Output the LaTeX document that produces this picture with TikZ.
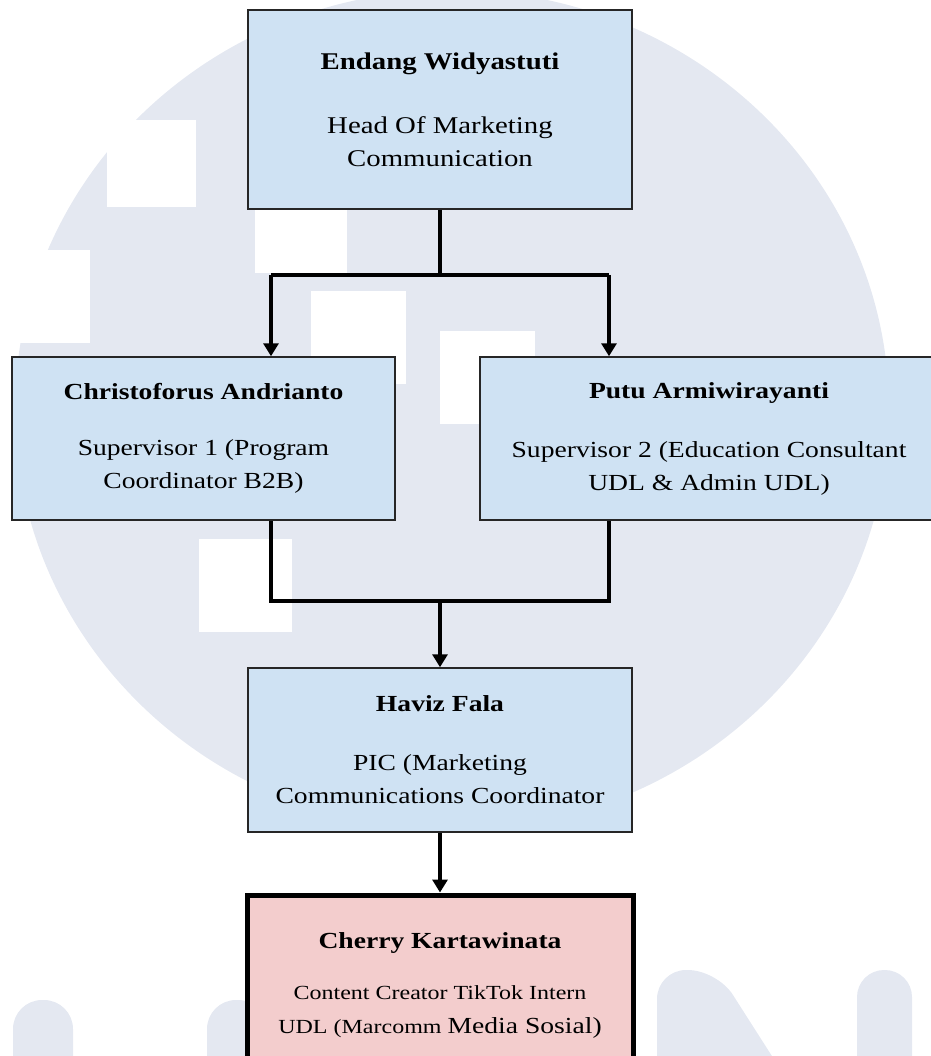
\documentclass[tikz,border=0pt]{standalone}
\usepackage{fontspec}
\setmainfont{Liberation Serif}[FakeStretch=1.2]
\usetikzlibrary{arrows.meta}
\definecolor{boxblue}{RGB}{207,226,243}
\definecolor{boxpink}{RGB}{243,205,205}
\definecolor{wmgray}{RGB}{228,232,241}

\begin{document}
\begin{tikzpicture}[x=1pt, y=-1pt, >={Triangle[length=13pt,width=15pt]}]
    \tikzset{box/.style={draw=black!85, line width=1.5pt, fill=boxblue, align=center, inner sep=0pt},
             link/.style={line width=3.2pt, black}}
    \useasboundingbox (0,0) rectangle (930,1056);
    % watermark behind the chart
    \fill[wmgray] (452,410) ellipse [x radius=437, y radius=420];
    \fill[white] (107,120) rectangle (196,207);
    \fill[white] (0,250) rectangle (90,343);
    \fill[white] (255,185) rectangle (347,273);
    \fill[white] (311,291) rectangle (406,384);
    \fill[white] (440,331) rectangle (535,424);
    \fill[white] (199,539) rectangle (292,632);
    \fill[wmgray, rounded corners=29pt] (13,1100) -- (13,1000) -- (73,1000) -- (73,1100) -- cycle;
    \fill[wmgray, rounded corners=29pt] (207,1100) -- (207,1000) -- (267,1000) -- (267,1100) -- cycle;
    \fill[wmgray, rounded corners=29pt] (657,1100) -- (657,970) -- (717,970) -- (800,1100) -- cycle;
    \fill[wmgray, rounded corners=27pt] (857,1100) -- (857,970) -- (912,970) -- (912,1100) -- cycle;
    % boxes
    \node[box, minimum width=384pt, minimum height=199pt, font=\fontsize{24}{33}\selectfont]
        (endang) at (440,109.5) {\textbf{Endang Widyastuti}\\[31pt]Head Of Marketing\\Communication};
    \node[box, minimum width=383pt, minimum height=163pt, font=\fontsize{23}{33}\selectfont]
        (christo) at (203.5,438.5) {\textbf{Christoforus Andrianto}\\[23pt]Supervisor 1 (Program\\Coordinator B2B)};
    \node[box, minimum width=458pt, minimum height=163pt, font=\fontsize{23}{33}\selectfont]
        (putu) at (709,438.5) {\textbf{Putu Armiwirayanti}\\[26pt]Supervisor 2 (Education Consultant\\UDL \& Admin UDL)};
    \node[box, minimum width=384pt, minimum height=164pt, font=\fontsize{23}{33}\selectfont]
        (haviz) at (440,750) {\textbf{Haviz Fala}\\[26pt]PIC (Marketing\\Communications Coordinator};
    \node[box, fill=boxpink, draw=black, line width=5pt, minimum width=386pt, minimum height=180pt,
          font=\fontsize{20}{34}\selectfont]
        (cherry) at (440,985) {{\fontsize{23}{34}\selectfont\bfseries Cherry Kartawinata}\\[17pt]Content Creator TikTok Intern\\UDL (Marcomm {\fontsize{23}{34}\selectfont Media Sosial)}};
    % connectors
    \coordinate (splitL) at (271,275);
    \coordinate (splitR) at (609,275);
    \coordinate (joinL) at (271,601);
    \coordinate (joinR) at (609,601);
    \draw[link] (endang.south) -- (endang.south |- splitL);
    \draw[link] (splitL) -- (splitR);
    \draw[link, ->] (splitL) -- (splitL |- christo.north);
    \draw[link, ->] (splitR) -- (splitR |- putu.north);
    \draw[link] (joinL |- christo.south) -- (joinL) -- (joinR) -- (joinR |- putu.south);
    \draw[link, ->] (haviz.north |- joinL) -- (haviz.north);
    \draw[link, ->] (haviz.south) -- (cherry.north);
\end{tikzpicture}
\end{document}
